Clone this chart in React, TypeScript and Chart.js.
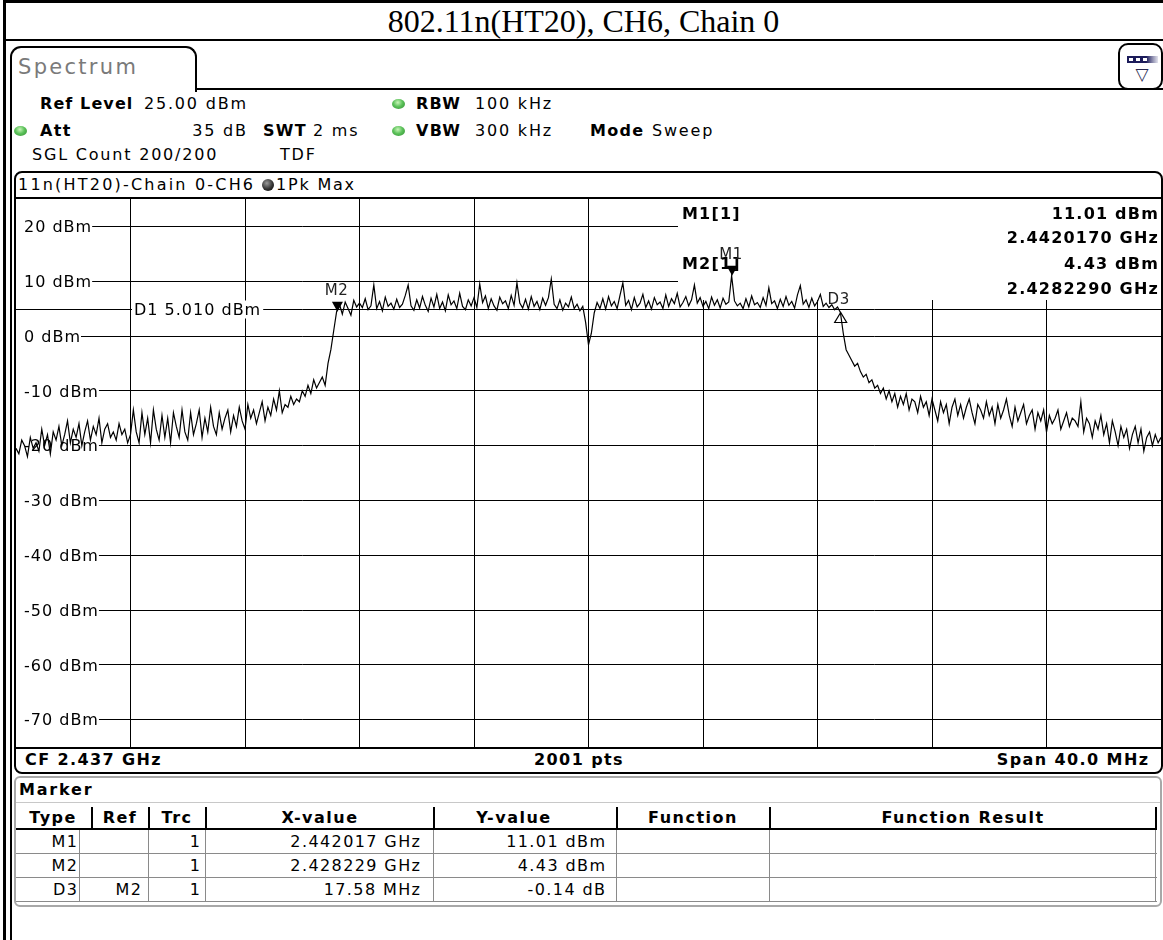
import React, { useEffect, useRef } from "react";
import { Chart, registerables } from "chart.js";

Chart.register(...registerables);

// ---------------- data ----------------
const TITLE = "802.11n(HT20), CH6, Chain 0";
const START_GHZ = 2.417;
const STOP_GHZ = 2.457;
const STEP_GHZ = 0.0001; // sweep grid used for the sampled trace (0.1 MHz)
const REF_LEVEL = 25;
const BOTTOM_LEVEL = -75;

const xGridGHz = [2.421, 2.425, 2.429, 2.433, 2.437, 2.441, 2.445, 2.449, 2.453];
const yGridDbm = [20, 10, 0, -10, -20, -30, -40, -50, -60, -70];
const yTickLabels = ["20 dBm", "10 dBm", "0 dBm", "-10 dBm", "-20 dBm", "-30 dBm", "-40 dBm", "-50 dBm", "-60 dBm", "-70 dBm"];

const d1Level = 5.01;
const d1Label = "D1 5.010 dBm";

// trace values (dBm), one per 0.1 MHz sweep grid point
const traceDbm = [
  -20.5, -21.5, -19.0, -20.0, -22.0, -18.5, -20.5, -19.5, -21.0, -17.0, -20.0, -18.0, -21.5, -17.5, -19.0, -16.5, -20.0, -18.0, -15.5, -19.5,
  -17.0, -18.5, -16.0, -20.0, -17.5, -15.5, -19.0, -16.5, -18.0, -15.0, -19.5, -17.0, -16.0, -18.5, -17.5, -19.0, -16.0, -18.0, -17.0, -19.5,
  -18.0, -13.5, -17.5, -19.5, -14.0, -18.0, -15.0, -19.5, -13.5, -17.0, -19.0, -14.5, -18.5, -15.0, -19.5, -14.0, -16.5, -18.5, -13.5, -17.5,
  -19.0, -14.0, -18.0, -16.0, -13.5, -18.5, -15.0, -17.5, -13.0, -16.5, -18.0, -14.0, -17.0, -15.0, -13.5, -17.5, -14.5, -16.5, -13.0, -15.5,
  -17.0, -12.5, -15.0, -13.5, -16.0, -14.0, -12.0, -15.5, -13.0, -14.5, -11.5, -13.5, -10.0, -14.0, -12.5, -13.0, -11.0, -12.5, -11.5, -12.0,
  -10.0, -11.0, -9.0, -10.5, -8.0, -9.5, -8.5, -7.5, -9.0, -5.0, -2.5, 1.0, 4.43, 5.8, 4.0, 6.2, 5.0, 3.8, 6.5, 5.3,
  6.0, 5.2, 6.8, 4.8, 5.5, 9.3, 5.0, 6.3, 4.6, 7.1, 5.4, 6.0, 4.9, 6.7, 5.2, 5.8, 7.4, 9.3, 5.5, 4.7,
  6.6, 5.1, 7.2, 5.6, 4.5, 6.9, 5.3, 7.6, 5.0, 6.2, 4.6, 7.5, 5.7, 6.4, 5.0, 7.8, 5.4, 4.8, 6.6, 5.5,
  7.0, 5.2, 9.5, 6.1, 7.3, 5.0, 6.8, 5.5, 4.7, 7.1, 5.9, 6.4, 5.0, 7.4, 5.6, 9.7, 6.0, 5.1, 6.7, 4.9,
  7.2, 5.4, 6.3, 4.8, 6.9, 5.6, 7.0, 10.4, 5.8, 5.0, 6.6, 4.7, 6.0, 5.3, 7.1, 5.0, 5.8, 4.6, 5.4, 2.5,
  -1.6, 0.5, 4.2, 6.1, 5.0, 6.8, 4.9, 7.2, 5.5, 6.3, 5.0, 7.4, 9.7, 5.6, 6.5, 4.8, 7.0, 5.3, 6.0, 7.6,
  5.2, 6.4, 4.9, 7.0, 5.7, 6.2, 5.0, 7.5, 5.4, 6.8, 5.9, 7.8, 5.3, 6.1, 7.2, 5.5, 6.6, 9.3, 6.0, 7.0,
  5.4, 6.3, 5.0, 7.1, 5.6, 6.6, 5.1, 6.9, 5.8, 6.2, 11.01, 6.4, 5.5, 6.0, 5.0, 6.8, 5.3, 7.3, 5.7, 6.1,
  5.2, 7.0, 5.6, 8.8, 5.9, 6.4, 5.0, 6.7, 5.4, 7.2, 5.6, 6.3, 5.1, 7.5, 9.2, 5.8, 6.6, 5.2, 6.9, 5.5,
  6.3, 7.6, 5.4, 6.0, 5.2, 5.7, 4.8, 5.3, 4.29, 0.5, -2.5, -3.5, -4.5, -5.5, -5.0, -6.5, -7.5, -7.0, -8.5, -8.0,
  -9.5, -9.0, -10.5, -9.5, -11.5, -10.0, -12.0, -10.5, -13.0, -11.0, -12.5, -10.5, -13.5, -11.5, -12.0, -14.0, -11.0, -13.0, -12.0, -14.5,
  -11.5, -13.5, -15.5, -12.0, -14.0, -12.5, -16.0, -13.0, -11.5, -14.5, -12.5, -15.0, -13.0, -11.5, -14.0, -16.0, -12.5, -13.5, -15.0, -12.0,
  -14.5, -13.0, -16.0, -12.5, -15.0, -13.5, -11.5, -14.5, -16.5, -13.0, -15.5, -14.0, -12.5, -16.0, -14.5, -13.5, -17.0, -14.0, -15.5, -13.5,
  -17.5, -14.5, -16.0, -15.0, -13.5, -17.0, -15.5, -14.0, -16.5, -15.0, -15.5, -16.5, -12.0, -17.5, -15.0, -16.0, -18.5, -15.5, -17.0, -14.5,
  -18.0, -16.0, -19.5, -15.5, -17.5, -20.0, -16.5, -18.5, -17.0, -20.5, -18.0, -16.5, -19.5, -17.0, -21.0, -18.5, -17.5, -20.0, -18.0, -19.5,
  -18.5,
];

const markerNames = ["M1", "M2", "D3"];
const markerFreqGHz = [2.442017, 2.428229, 2.445809];
const markerLevelDbm = [11.01, 4.43, 4.29];
const markerIsDelta = [false, false, true];

const infoLabels = ["M1[1]", "M2[1]"];
const infoLevels = ["11.01 dBm", "4.43 dBm"];
const infoFreqs = ["2.4420170 GHz", "2.4282290 GHz"];

const tableHeaders = ["Type", "Ref", "Trc", "X-value", "Y-value", "Function", "Function Result"];
const tableTypes = ["M1", "M2", "D3"];
const tableRefs = ["", "", "M2"];
const tableTrcs = ["1", "1", "1"];
const tableXValues = ["2.442017 GHz", "2.428229 GHz", "17.58 MHz"];
const tableYValues = ["11.01 dBm", "4.43 dBm", "-0.14 dB"];

// ---------------- layout helpers ----------------
const W = 1163;
const H = 940;
const FONT = '"DejaVu Sans", Verdana, sans-serif';

type TxtProps = {
  x: number;
  y: number;
  t: string;
  size?: number;
  bold?: boolean;
  ls?: number;
  align?: "left" | "right" | "center";
  color?: string;
  family?: string;
};

function Txt({ x, y, t, size = 16, bold = false, ls = 1, align = "left", color = "#000", family = FONT }: TxtProps) {
  const style: any = {
    position: "absolute",
    top: y - size * 0.6,
    lineHeight: `${size * 1.2}px`,
    height: size * 1.2,
    fontSize: size,
    fontWeight: bold ? 700 : 400,
    letterSpacing: ls,
    whiteSpace: "pre",
    color,
    fontFamily: family,
  };
  if (align === "left") style.left = x;
  else if (align === "right") style.right = W - x - ls;
  else {
    style.left = x;
    style.transform = "translateX(-50%)";
  }
  return <div style={style}>{t}</div>;
}

function Box(p: { l: number; t: number; w: number; h: number; c?: string; extra?: any }) {
  return (
    <div
      style={{
        position: "absolute",
        left: p.l,
        top: p.t,
        width: p.w,
        height: p.h,
        background: p.c ?? "#000",
        ...(p.extra || {}),
      }}
    />
  );
}

function Dot({ cx, cy, w = 13, h = 10 }: { cx: number; cy: number; w?: number; h?: number }) {
  return (
    <div
      style={{
        position: "absolute",
        left: cx - w / 2,
        top: cy - h / 2,
        width: w,
        height: h,
        borderRadius: "50%",
        background: "radial-gradient(ellipse at 45% 35%, #c8f5b8 0%, #5cc25a 45%, #2e8b2e 100%)",
      }}
    />
  );
}

// ---------------- chart overlay plugin ----------------
function textW(ctx: CanvasRenderingContext2D, t: string) {
  return ctx.measureText(t).width;
}

const overlayPlugin = {
  id: "rsOverlay",
  beforeDatasetsDraw(chart: any) {
    const { ctx, chartArea: a } = chart;
    const ys = chart.scales.y;
    ctx.save();
    ctx.textBaseline = "alphabetic";

    // marker info field (covers the grid in the top right)
    ctx.fillStyle = "#fff";
    ctx.fillRect(a.right - 483, a.top, 483, 101);

    // display line D1
    const dy = Math.round(ys.getPixelForValue(d1Level)) + 0.5;
    ctx.strokeStyle = "#000";
    ctx.lineWidth = 1;
    ctx.beginPath();
    ctx.moveTo(a.left, dy);
    ctx.lineTo(a.right, dy);
    ctx.stroke();

    ctx.font = `16px ${FONT}`;
    (ctx as any).letterSpacing = "1px";

    // level labels on the grid lines
    yGridDbm.forEach((v, i) => {
      const py = ys.getPixelForValue(v);
      const t = yTickLabels[i];
      const w = textW(ctx, t);
      ctx.fillStyle = "#fff";
      ctx.fillRect(a.left, py - 9, 8 + w, 18);
      ctx.fillStyle = "#000";
      ctx.fillText(t, a.left + 8, py + 5.8);
    });

    // D1 label
    {
      const w = textW(ctx, d1Label);
      ctx.fillStyle = "#fff";
      ctx.fillRect(a.left + 116, dy - 9, w + 4, 18);
      ctx.fillStyle = "#000";
      ctx.fillText(d1Label, a.left + 118, dy + 5.8);
    }

    // info field text
    ctx.font = `bold 16px ${FONT}`;
    (ctx as any).letterSpacing = "1.2px";
    const rows = [a.top + 14, a.top + 38, a.top + 64, a.top + 89];
    infoLabels.forEach((lab, i) => {
      const yLab = rows[i * 2];
      const yFreq = rows[i * 2 + 1];
      ctx.fillStyle = "#000";
      ctx.fillText(lab, a.right - 479, yLab + 5.8);
      const lv = infoLevels[i];
      ctx.fillText(lv, a.right - 2 - textW(ctx, lv), yLab + 5.8);
      const fq = infoFreqs[i];
      ctx.fillText(fq, a.right - 2 - textW(ctx, fq), yFreq + 5.8);
    });
    ctx.restore();
  },
  afterDatasetsDraw(chart: any) {
    const { ctx } = chart;
    const xs = chart.scales.x;
    const ys = chart.scales.y;
    ctx.save();
    ctx.font = `15px ${FONT}`;
    (ctx as any).letterSpacing = "0.5px";
    ctx.textBaseline = "alphabetic";
    markerNames.forEach((name, i) => {
      const px = xs.getPixelForValue(markerFreqGHz[i]);
      const py = ys.getPixelForValue(markerLevelDbm[i]);
      ctx.fillStyle = "#000";
      ctx.strokeStyle = "#000";
      ctx.lineWidth = 1.2;
      if (!markerIsDelta[i]) {
        ctx.beginPath();
        ctx.moveTo(px - 5.5, py - 10);
        ctx.lineTo(px + 5.5, py - 10);
        ctx.lineTo(px, py);
        ctx.closePath();
        ctx.fill();
        const w = textW(ctx, name);
        ctx.fillStyle = "#222";
        ctx.fillText(name, px - w / 2 - 1, py - 17);
      } else {
        ctx.beginPath();
        ctx.moveTo(px, py);
        ctx.lineTo(px - 6, py + 10);
        ctx.lineTo(px + 6, py + 10);
        ctx.closePath();
        ctx.stroke();
        const w = textW(ctx, name);
        ctx.fillStyle = "#222";
        ctx.fillText(name, px - w / 2 - 2, py - 8);
      }
    });
    ctx.restore();
  },
};

function SpectrumChart() {
  const ref = useRef<HTMLCanvasElement | null>(null);
  useEffect(() => {
    if (!ref.current) return;
    const points = traceDbm.map((v, i) => ({ x: START_GHZ + i * STEP_GHZ, y: v }));
    const chart = new Chart(ref.current, {
      type: "line",
      data: {
        datasets: [
          {
            data: points,
            borderColor: "#000",
            borderWidth: 1.2,
            pointRadius: 0,
            tension: 0,
            fill: false,
          },
        ],
      },
      options: {
        animation: false,
        responsive: true,
        maintainAspectRatio: false,
        events: [],
        layout: { padding: 0 },
        plugins: { legend: { display: false }, tooltip: { enabled: false }, title: { display: false } },
        scales: {
          x: {
            type: "linear",
            min: START_GHZ,
            max: STOP_GHZ,
            afterBuildTicks: (ax: any) => {
              ax.ticks = xGridGHz.map((v) => ({ value: v }));
            },
            ticks: { display: false },
            grid: { color: "#000", lineWidth: 1, drawTicks: false },
            border: { display: false },
          },
          y: {
            type: "linear",
            min: BOTTOM_LEVEL,
            max: REF_LEVEL,
            afterBuildTicks: (ax: any) => {
              ax.ticks = yGridDbm.map((v) => ({ value: v }));
            },
            ticks: { display: false },
            grid: { color: "#000", lineWidth: 1, drawTicks: false },
            border: { display: false },
          },
        },
      } as any,
      plugins: [overlayPlugin as any],
    });
    return () => chart.destroy();
  }, []);
  return <canvas ref={ref} />;
}

export default function App() {
  const hdrSep = [91, 148, 205, 433, 616, 769, 1155];
  const bodySep = [79, 148, 205, 433, 616, 769, 1155];
  const hdrCenters = [53, 120, 177, 320, 514, 693, 963];
  const rowY = [842, 866, 890];
  return (
    <div
      style={{
        position: "absolute",
        left: 0,
        top: 0,
        width: W,
        height: H,
        background: "#fff",
        overflow: "hidden",
        fontFamily: FONT,
      }}
    >
      {/* outer table frame + title */}
      <Box l={3} t={0} w={3} h={H} />
      <Box l={3} t={0} w={W} h={3} />
      <Box l={3} t={39} w={W} h={2} />
      <div
        style={{
          position: "absolute",
          left: 4,
          top: 3,
          width: W - 4,
          height: 36,
          lineHeight: "36px",
          textAlign: "center",
          fontFamily: '"Liberation Serif", "Times New Roman", serif',
          fontSize: 32,
          color: "#000",
          whiteSpace: "pre",
        }}
      >
        {TITLE}
      </div>

      {/* screen frame / tab */}
      <Box l={10} t={90} w={2} h={H - 90} />
      <div
        style={{
          position: "absolute",
          left: 10,
          top: 46,
          width: 187,
          height: 46,
          boxSizing: "border-box",
          border: "2px solid #000",
          borderBottom: "none",
          borderRadius: "11px 11px 0 0",
        }}
      />
      <Box l={195} t={88} w={W - 195} h={2} />
      <Txt x={18} y={68} t="Spectrum" size={21} ls={2.3} color="#7a7a7a" />

      {/* top-right icon */}
      <div
        style={{
          position: "absolute",
          left: 1118,
          top: 43,
          width: 45,
          height: 47,
          boxSizing: "border-box",
          border: "2px solid #000",
          borderRadius: 10,
          background: "#fff",
        }}
      />
      <Box l={1127} t={56} w={31} h={7} c="linear-gradient(90deg,#1c1c5a 0%,#1c1c5a 62%,#9a9ab8 85%,#e4e4ee 100%)" />
      <Box l={1129} t={58} w={4} h={3} c="#fff" />
      <Box l={1136} t={58} w={4} h={3} c="#fff" />
      <Box l={1143} t={58} w={4} h={3} c="#fff" />
      <Txt x={1142} y={74} t={"\u25BD"} size={17} ls={0} color="#2a2a50" align="center" />

      {/* header info rows */}
      <Txt x={40} y={104} t="Ref Level" bold ls={1.1} />
      <Txt x={246} y={104} t="25.00 dBm" align="right" ls={1.8} />
      <Dot cx={398} cy={104} />
      <Txt x={416} y={104} t="RBW" bold ls={1.3} />
      <Txt x={475} y={104} t="100 kHz" ls={1.8} />

      <Dot cx={20} cy={131} />
      <Txt x={40} y={131} t="Att" bold ls={1.3} />
      <Txt x={246} y={131} t="35 dB" align="right" ls={1.8} />
      <Txt x={263} y={131} t="SWT" bold ls={1.3} />
      <Txt x={313} y={131} t="2 ms" ls={1.8} />
      <Dot cx={398} cy={131} />
      <Txt x={416} y={131} t="VBW" bold ls={1.3} />
      <Txt x={475} y={131} t="300 kHz" ls={1.8} />
      <Txt x={590} y={131} t="Mode" bold ls={1.3} />
      <Txt x={652} y={131} t="Sweep" ls={1.8} />

      <Txt x={32} y={155} t="SGL Count 200/200" ls={1.8} />
      <Txt x={280} y={155} t="TDF" ls={1.8} />

      {/* plot panel */}
      <div
        style={{
          position: "absolute",
          left: 14,
          top: 171,
          width: W - 14,
          height: 603,
          boxSizing: "border-box",
          border: "2px solid #000",
          borderRadius: 8,
        }}
      />
      <Txt x={18} y={185} t="11n(HT20)-Chain 0-CH6" ls={2.2} />
      <div
        style={{
          position: "absolute",
          left: 262,
          top: 179,
          width: 12,
          height: 12,
          borderRadius: "50%",
          background: "radial-gradient(circle at 40% 35%, #9a9a9a 0%, #333 55%, #000 100%)",
        }}
      />
      <Txt x={276} y={185} t="1Pk Max" ls={1.8} />
      <Box l={16} t={197} w={1145} h={2} />
      <Box l={16} t={747} w={1145} h={2} />
      <div style={{ position: "absolute", left: 16, top: 199, width: 1145, height: 548 }}>
        <SpectrumChart />
      </div>
      <Txt x={25} y={760} t="CF 2.437 GHz" bold ls={1.4} />
      <Txt x={579} y={760} t="2001 pts" bold align="center" ls={1.4} />
      <Txt x={1148} y={760} t="Span 40.0 MHz" bold align="right" ls={1.4} />

      {/* marker table panel */}
      <div
        style={{
          position: "absolute",
          left: 14,
          top: 776,
          width: 1148,
          height: 131,
          boxSizing: "border-box",
          border: "2px solid #a8a8a8",
          borderRadius: 6,
        }}
      />
      <Txt x={19} y={790} t="Marker" bold ls={1.8} />
      <Box l={16} t={802} w={1144} h={1} c="#c8c8c8" />
      {hdrSep.map((x, i) => (
        <Box key={"hs" + i} l={x} t={807} w={2} h={22} />
      ))}
      <Box l={16} t={828} w={1141} h={2} />
      {bodySep.map((x, i) => (
        <Box key={"bs" + i} l={x} t={830} w={1} h={72} c="#8a8a8a" />
      ))}
      {[853, 877, 901].map((y, i) => (
        <Box key={"rl" + i} l={16} t={y} w={1141} h={1} c="#8a8a8a" />
      ))}
      {tableHeaders.map((h, i) => (
        <Txt key={"th" + i} x={hdrCenters[i]} y={818} t={h} bold align="center" ls={1.5} />
      ))}
      {rowY.map((y, i) => (
        <React.Fragment key={"row" + i}>
          <Txt x={77} y={y} t={tableTypes[i]} align="right" ls={1.4} />
          <Txt x={141} y={y} t={tableRefs[i]} align="right" ls={1.4} />
          <Txt x={200} y={y} t={tableTrcs[i]} align="right" ls={1.4} />
          <Txt x={420} y={y} t={tableXValues[i]} align="right" ls={1.4} />
          <Txt x={605} y={y} t={tableYValues[i]} align="right" ls={1.4} />
        </React.Fragment>
      ))}
    </div>
  );
}
